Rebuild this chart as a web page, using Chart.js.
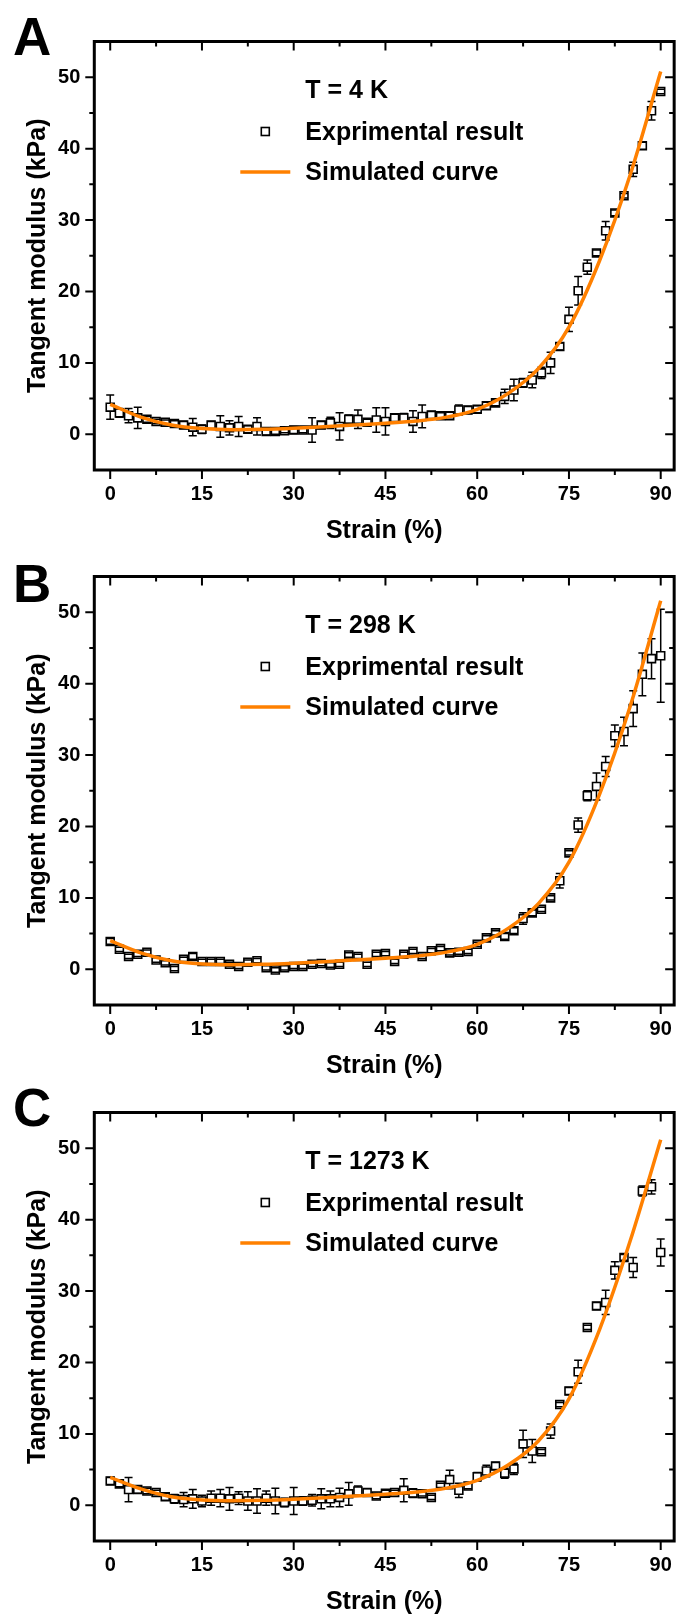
<!DOCTYPE html>
<html>
<head>
<meta charset="utf-8">
<script src="https://cdn.jsdelivr.net/npm/chart.js@4.4.1/dist/chart.umd.min.js"></script>
<style>
  html, body { margin: 0; padding: 0; background: #fff; }
  body { width: 684px; height: 1616px; position: relative; overflow: hidden; }
  .panel { position: absolute; left: 0; width: 684px; }
  .letter { position: absolute; left: 13px; font: bold 53px 'Liberation Sans', Arial, sans-serif; line-height: 53px; color: #000; }
</style>
</head>
<body>
<div class="panel" style="top:0;height:555px"><canvas id="chartA"></canvas></div>
<div class="panel" style="top:535px;height:555px"><canvas id="chartB"></canvas></div>
<div class="panel" style="top:1071px;height:545px"><canvas id="chartC"></canvas></div>
<div class="letter" style="top:10px">A</div>
<div class="letter" style="top:557px">B</div>
<div class="letter" style="top:1081px">C</div>
<script>
// strain values of the measured points (%)
const strain = [0, 1.5, 3, 4.5, 6, 7.5, 9, 10.5, 12, 13.5, 15, 16.5, 18, 19.5, 21, 22.5, 24, 25.5, 27, 28.5,
  30, 31.5, 33, 34.5, 36, 37.5, 39, 40.5, 42, 43.5, 45, 46.5, 48, 49.5, 51, 52.5, 54, 55.5, 57, 58.5,
  60, 61.5, 63, 64.5, 66, 67.5, 69, 70.5, 72, 73.5, 75, 76.5, 78, 79.5, 81, 82.5, 84, 85.5, 87, 88.5, 90];

// T = 4 K
const valuesA = [3.8, 3.0, 2.6, 2.3, 2.1, 1.8, 1.7, 1.5, 1.3, 1.0,
  0.7, 1.3, 1.1, 0.9, 1.1, 0.7, 1.1, 0.4, 0.4, 0.5,
  0.6, 0.6, 0.6, 1.3, 1.6, 1.1, 2.1, 2.1, 1.7, 2.0,
  1.8, 2.3, 2.3, 1.8, 2.5, 2.7, 2.6, 2.6, 3.4, 3.4,
  3.5, 4.0, 4.4, 5.3, 6.2, 7.2, 7.6, 8.6, 10.0, 12.3,
  16.1, 20.1, 23.4, 25.4, 28.5, 31.0, 33.4, 37.1, 40.4, 45.3,
  48.0];
const errorsA = [1.7, 0.6, 1.0, 1.5, 0.4, 0.3, 0.3, 0.4, 0.5, 1.2,
  0.6, 0.5, 1.5, 1.0, 1.4, 0.5, 1.2, 0.5, 0.4, 0.3,
  0.5, 0.4, 1.7, 0.5, 0.8, 1.9, 0.6, 1.3, 0.4, 1.7,
  1.9, 0.5, 0.6, 1.5, 1.6, 0.5, 0.4, 0.5, 0.7, 0.5,
  0.5, 0.5, 0.4, 1.0, 1.5, 0.6, 1.1, 0.8, 1.5, 0.5,
  1.7, 2.0, 1.0, 0.4, 1.3, 0.4, 0.3, 1.0, 0.5, 1.3,
  0.3];

// T = 298 K
const valuesB = [3.9, 2.8, 1.8, 2.1, 2.4, 1.3, 0.9, 0.1, 1.4, 1.8,
  1.1, 1.1, 1.1, 0.7, 0.4, 1.0, 1.2, 0.2, -0.1, 0.2,
  0.4, 0.4, 0.7, 0.8, 0.6, 0.7, 2.0, 1.8, 0.7, 2.1,
  2.2, 1.1, 2.1, 2.5, 1.8, 2.6, 2.9, 2.3, 2.4, 2.5,
  3.5, 4.4, 5.1, 4.6, 5.4, 7.1, 7.9, 8.4, 10.0, 12.4,
  16.3, 20.2, 24.3, 25.6, 28.4, 32.7, 33.3, 36.5, 41.3, 43.5,
  43.9];
const errorsB = [0.4, 0.3, 0.3, 0.3, 0.3, 0.3, 0.3, 0.3, 0.3, 0.4,
  0.3, 0.3, 0.3, 0.3, 0.3, 0.3, 0.3, 0.3, 0.3, 0.3,
  0.3, 0.3, 0.3, 0.3, 0.3, 0.3, 0.3, 0.3, 0.3, 0.3,
  0.3, 0.3, 0.3, 0.3, 0.3, 0.3, 0.3, 0.3, 0.3, 0.3,
  0.3, 0.3, 0.3, 0.4, 0.4, 0.8, 0.4, 0.3, 0.3, 1.0,
  0.3, 1.0, 0.7, 1.9, 1.4, 1.5, 2.0, 2.5, 3.0, 2.8,
  6.5];

// T = 1273 K
const valuesC = [3.4, 3.0, 2.2, 2.2, 2.0, 1.8, 1.2, 0.9, 0.8, 0.9,
  0.6, 1.0, 1.0, 0.9, 1.0, 0.6, 0.6, 1.0, 0.6, 0.4,
  0.6, 0.6, 0.7, 0.9, 0.9, 1.1, 1.6, 2.0, 1.8, 1.3,
  1.7, 1.8, 2.1, 1.7, 1.6, 1.1, 2.8, 3.6, 2.1, 2.7,
  4.0, 4.8, 5.5, 4.5, 5.1, 8.6, 7.6, 7.5, 10.4, 14.1,
  16.0, 18.7, 24.9, 27.9, 28.4, 32.9, 34.7, 33.3, 44.0, 44.6,
  35.4];
const errorsC = [0.5, 0.4, 1.7, 0.5, 0.4, 0.3, 0.5, 0.6, 1.0, 1.3,
  0.8, 1.0, 1.2, 1.6, 0.9, 1.3, 1.7, 1.0, 1.8, 0.6,
  1.9, 0.6, 0.8, 1.4, 1.1, 1.3, 1.6, 0.7, 0.5, 0.4,
  0.4, 0.3, 1.6, 0.6, 0.3, 0.3, 0.3, 1.3, 1.0, 0.4,
  0.6, 0.8, 0.5, 0.7, 0.8, 1.9, 1.6, 0.3, 1.0, 0.3,
  0.5, 1.6, 0.3, 0.5, 1.7, 1.2, 0.4, 1.4, 0.7, 1.0,
  1.9];

// simulated curve, read every 5 %
const simStrain = [0, 5, 10, 15, 20, 25, 30, 35, 40, 45, 50, 55, 60, 65, 70, 75, 80, 85, 90];
const simA = [4.2, 2.4, 1.3, 0.8, 0.65, 0.7, 0.85, 1.05, 1.3, 1.55, 1.85, 2.4, 3.5, 5.7, 9.2, 15.0, 24.3, 36.3, 50.8];
const simB = [4.0, 2.3, 1.2, 0.75, 0.65, 0.7, 0.85, 1.05, 1.3, 1.55, 1.85, 2.4, 3.5, 5.7, 9.2, 15.0, 24.5, 36.8, 51.6];
const simC = [3.9, 2.3, 1.2, 0.75, 0.65, 0.7, 0.85, 1.05, 1.3, 1.55, 1.85, 2.4, 3.5, 5.6, 9.0, 14.9, 24.6, 37.0, 51.2];

// axis ticks
const xMajor = [0, 15, 30, 45, 60, 75, 90];
const xMinor = [7.5, 22.5, 37.5, 52.5, 67.5, 82.5];
const yMajor = [0, 10, 20, 30, 40, 50];
const yMinor = [5, 15, 25, 35, 45];

const orange = '#ff8000';
const family = "'Liberation Sans', Arial, sans-serif";

const framePlugin = {
  id: 'frame',
  // error bars under the markers
  beforeDatasetsDraw(chart) {
    const { ctx, chartArea: a, scales: { x, y } } = chart;
    ctx.save();
    ctx.beginPath();
    ctx.rect(a.left, a.top, a.right - a.left, a.bottom - a.top);
    ctx.clip();
    ctx.strokeStyle = '#000';
    ctx.lineWidth = 1.5;
    ctx.beginPath();
    chart.data.datasets.forEach(ds => {
      if (!ds.errors) return;
      ds.data.forEach((p, i) => {
        const half = 4;
        const px = x.getPixelForValue(p.x);
        const py = y.getPixelForValue(p.y);
        const t = y.getPixelForValue(p.y + ds.errors[i]);
        const b = y.getPixelForValue(p.y - ds.errors[i]);
        if (py - t > half) {
          ctx.moveTo(px, t); ctx.lineTo(px, py - half);
          ctx.moveTo(px, py + half); ctx.lineTo(px, b);
        }
        ctx.moveTo(px - half, t); ctx.lineTo(px + half, t);
        ctx.moveTo(px - half, b); ctx.lineTo(px + half, b);
      });
    });
    ctx.stroke();
    ctx.restore();
  },
  // frame, tick marks and legend
  afterDraw(chart, args, opts) {
    const { ctx, chartArea: a, scales: { x, y } } = chart;
    ctx.save();
    ctx.strokeStyle = '#000';
    ctx.lineWidth = 2;
    ctx.beginPath();
    const xt = (v, len) => {
      const px = x.getPixelForValue(v);
      ctx.moveTo(px, a.bottom); ctx.lineTo(px, a.bottom + len);
      ctx.moveTo(px, a.top); ctx.lineTo(px, a.top + len);
    };
    const yt = (v, len) => {
      const py = y.getPixelForValue(v);
      ctx.moveTo(a.left - len, py); ctx.lineTo(a.left, py);
      ctx.moveTo(a.right - len, py); ctx.lineTo(a.right, py);
    };
    xMajor.forEach(v => xt(v, 9));
    xMinor.forEach(v => xt(v, 5));
    yMajor.forEach(v => yt(v, 9));
    yMinor.forEach(v => yt(v, 5));
    ctx.stroke();
    ctx.lineWidth = 3;
    ctx.strokeRect(a.left, a.top, a.right - a.left, a.bottom - a.top);

    const line = chart.data.datasets[0];
    const pts = chart.data.datasets[1];
    const lx = a.left + 211;
    ctx.fillStyle = '#000';
    ctx.font = 'bold 25px ' + family;
    ctx.textAlign = 'left';
    ctx.textBaseline = 'alphabetic';
    ctx.fillText(opts.title, lx, a.top + 56.5);
    ctx.fillText(pts.label, lx, a.top + 98);
    ctx.fillText(line.label, lx, a.top + 138.5);
    ctx.lineWidth = 1.6;
    ctx.strokeRect(a.left + 167, a.top + 86, 8, 8);
    ctx.strokeStyle = line.borderColor;
    ctx.lineWidth = 3.5;
    ctx.beginPath();
    ctx.moveTo(a.left + 146, a.top + 130.5);
    ctx.lineTo(a.left + 196, a.top + 130.5);
    ctx.stroke();
    ctx.restore();
  }
};

function makePanel(id, title, values, errors, sim, bottomPad) {
  const tickFont = { family, size: 20, weight: 'bold' };
  const titleFont = { family, size: 25, weight: 'bold' };
  return new Chart(document.getElementById(id), {
    type: 'scatter',
    data: {
      datasets: [
        {
          label: 'Simulated curve',
          data: simStrain.map((s, i) => ({ x: s, y: sim[i] })),
          showLine: true,
          borderColor: orange,
          borderWidth: 3.5,
          pointRadius: 0,
          cubicInterpolationMode: 'monotone',
          fill: false
        },
        {
          label: 'Exprimental result',
          data: strain.map((s, i) => ({ x: s, y: values[i] })),
          errors: errors,
          pointStyle: 'rect',
          pointRadius: 5.6,
          borderColor: '#000',
          borderWidth: 1.6,
          backgroundColor: 'rgba(0,0,0,0)'
        }
      ]
    },
    options: {
      responsive: true,
      maintainAspectRatio: false,
      animation: false,
      events: [],
      layout: { padding: { top: 41.5, right: 3.5, bottom: bottomPad, left: 0 } },
      plugins: {
        legend: { display: false },
        tooltip: { enabled: false },
        frame: { title: title }
      },
      scales: {
        x: {
          type: 'linear',
          min: -2.6,
          max: 92.2,
          afterBuildTicks: s => { s.ticks = xMajor.map(v => ({ value: v })); },
          afterFit: s => { s.height = 65; },
          grid: { display: false, drawTicks: false },
          border: { display: false },
          ticks: { font: tickFont, color: '#000', padding: 12, maxRotation: 0, autoSkip: false },
          title: { display: true, text: 'Strain (%)', font: titleFont, color: '#000', padding: { top: 0, bottom: -11 } }
        },
        y: {
          type: 'linear',
          min: -5,
          max: 55,
          afterBuildTicks: s => { s.ticks = yMajor.map(v => ({ value: v })); },
          afterFit: s => { s.width = 94.3; },
          grid: { display: false, drawTicks: false },
          border: { display: false },
          ticks: { font: tickFont, color: '#000', padding: 14, autoSkip: false },
          title: { display: true, text: 'Tangent modulus (kPa)', font: titleFont, color: '#000', padding: { top: 23, bottom: 0 } }
        }
      }
    },
    plugins: [framePlugin]
  });
}

makePanel('chartA', 'T = 4 K', valuesA, errorsA, simA, 20);
makePanel('chartB', 'T = 298 K', valuesB, errorsB, simB, 20);
makePanel('chartC', 'T = 1273 K', valuesC, errorsC, simC, 10);
</script>
</body>
</html>
